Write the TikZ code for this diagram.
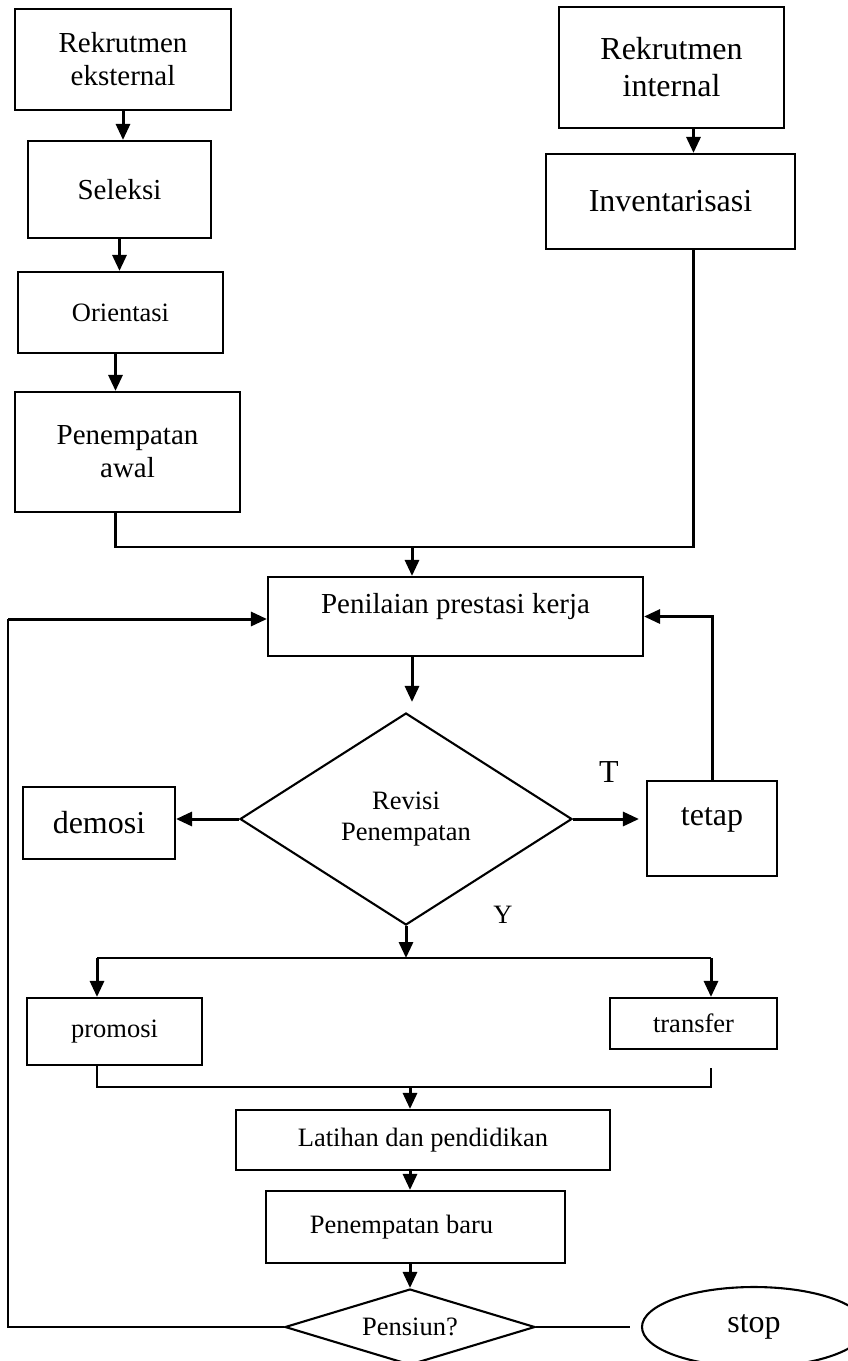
\documentclass[tikz,border=0pt]{standalone}
\usepackage{fontspec}
\setmainfont{Liberation Serif}
\usetikzlibrary{positioning,shapes.geometric,arrows.meta}
\newcommand{\fsmall}{\fontsize{26.5}{31}\selectfont}
\newcommand{\fmid}{\fontsize{29}{33}\selectfont}
\newcommand{\fbig}{\fontsize{32}{37}\selectfont}

\begin{document}
\begin{tikzpicture}[x=1pt,y=-1pt,
	box/.style={draw,line width=2.1pt,inner sep=0pt,align=center},
	arr/.style={-{Triangle[length=16pt,width=14pt]},line width=3pt},
	link/.style={line width=2.3pt}]

		\useasboundingbox (0,0) rectangle (848,1361);
		\clip (0,0) rectangle (848,1361);

		% the external recruitment column
		\node[box,minimum width=216pt,minimum height=101pt,font=\fmid] (ekst) at (123,59.5) {Rekrutmen\\eksternal};
		\node[box,minimum width=183pt,minimum height=97pt,font=\fmid] (sel) at (119.5,189.5) {Seleksi};
		\node[box,minimum width=205pt,minimum height=81pt,font=\fsmall] (ori) at (120.5,312.5) {Orientasi};
		\node[box,minimum width=225pt,minimum height=120pt,font=\fmid] (awal) at (127.5,452) {Penempatan\\awal};
		\draw[arr] (ekst.south) -- (ekst.south |- sel.north);
		\draw[arr] (sel.south) -- (sel.south |- ori.north);
		\draw[arr] ([xshift=-5pt]ori.south) -- ([xshift=-5pt]ori.south |- awal.north);

		% the internal recruitment column
		\node[box,minimum width=225pt,minimum height=121pt,font=\fbig] (inte) at (671.5,67.5) {Rekrutmen\\internal};
		\node[box,minimum width=249pt,minimum height=95pt,font=\fbig] (inv) at (670.5,201.5) {Inventarisasi};
		\draw[arr] ([xshift=22pt]inte.south) -- ([xshift=22pt]inte.south |- inv.north);

		% both columns meet at the appraisal
		\coordinate (m1) at (412,547);
		\node[box,minimum width=375pt,minimum height=79pt,text depth=26pt,font=\fmid] (nilai) at (455.5,616.5) {Penilaian prestasi kerja};
		\draw[link] ([xshift=-12pt]awal.south) |- (m1) -| ([xshift=23pt]inv.south);
		\draw[arr] (m1) -- (m1 |- nilai.north);

		% the revision decision
		\node[box,shape=diamond,aspect=1.57,minimum width=332pt,minimum height=212pt,font=\fsmall] (revisi) at (406,819) {Revisi\\Penempatan};
		\node[box,minimum width=152pt,minimum height=72pt,font=\fbig] (demosi) at (99,823) {demosi};
		\node[box,minimum width=130pt,minimum height=95pt,text depth=25pt,font=\fbig] (tetap) at (712,828.5) {tetap};
		\draw[arr,shorten >=10pt] (m1 |- nilai.south) -- (m1 |- revisi.north);
		\draw[arr] (revisi.west) -- (revisi.west -| demosi.east);
		\draw[arr,shorten >=7pt] (revisi.east) -- (revisi.east -| tetap.west);
		\draw[arr] (tetap.north) |- (nilai.east);
		\node[font=\fbig] (lblT) at (609,772) {T};
		\node[font=\fsmall] (lblY) at (503,915) {Y};

		% the split into promotion and transfer
		\coordinate (s1) at (406,958);
		\coordinate (sL) at (97,958);
		\coordinate (sR) at (711,958);
		\node[box,minimum width=175pt,minimum height=67pt,font=\fsmall] (pro) at (114.5,1031.5) {promosi};
		\node[box,minimum width=167pt,minimum height=51pt,font=\fsmall] (trans) at (693.5,1023.5) {transfer};
		\draw[arr] (revisi.south) -- (s1);
		\draw[link] (sL) -- (sR);
		\draw[arr] (sL) -- (sL |- pro.north);
		\draw[arr] (sR) -- (sR |- trans.north);

		% training, new placement and retirement
		\coordinate (m2) at (410,1087);
		\node[box,minimum width=374pt,minimum height=60pt,font=\fsmall] (lat) at (423,1140) {Latihan dan pendidikan};
		\node[box,minimum width=299pt,minimum height=72pt,font=\fsmall] (baru) at (415.5,1227) {Penempatan baru\hspace*{28pt}};
		\node[box,shape=diamond,aspect=3.3,minimum width=250pt,minimum height=76pt,font=\fsmall] (pens) at (410,1327) {Pensiun?};
		\node[box,shape=ellipse,minimum width=224pt,minimum height=80pt,font=\fbig] (stop) at (754,1327) {stop};
		\draw[link] (sL |- pro.south) |- (sR |- m2) -- ([yshift=-18pt]sR |- trans.south);
		\draw[arr] (m2) -- (m2 |- lat.north);
		\draw[arr] (m2 |- lat.south) -- (m2 |- baru.north);
		\draw[arr] (m2 |- baru.south) -- (m2 |- pens.north);

		% back to the appraisal, or stop
		\coordinate (fb) at (8,619);
		\draw[link] (pens.west) -| (fb);
		\draw[arr] (fb) -- (fb -| nilai.west);
		\draw[link] (pens.east) -- ([xshift=-11pt]stop.west);

	\end{tikzpicture}
\end{document}
